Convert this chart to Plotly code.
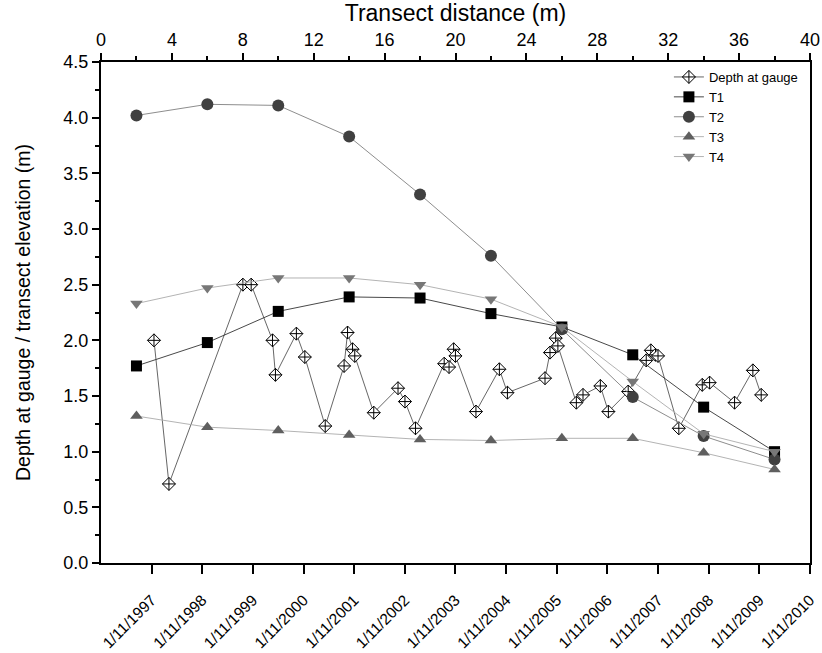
import plotly.graph_objects as go

# ---- data ----
gauge_dates = ["1997-11-18", "1998-03-06", "1999-08-21", "1999-10-20", "2000-03-22", "2000-04-12",
               "2000-09-10", "2000-11-10", "2001-04-06", "2001-08-20", "2001-09-14", "2001-10-20",
               "2001-11-05", "2002-03-22", "2002-09-13", "2002-11-02", "2003-01-17", "2003-08-12",
               "2003-09-16", "2003-10-19", "2003-11-01", "2004-03-28", "2004-09-13", "2004-11-10",
               "2005-08-08", "2005-09-13", "2005-10-24", "2005-11-09", "2006-03-22", "2006-05-09",
               "2006-09-11", "2006-11-08", "2007-03-31", "2007-08-08", "2007-09-10", "2007-10-14",
               "2007-11-01", "2008-03-30", "2008-09-15", "2008-11-07", "2009-05-06", "2009-09-15",
               "2009-11-14"]
gauge_depth = [2.00, 0.71, 2.50, 2.50, 2.00, 1.69,
               2.06, 1.85, 1.23, 1.77, 2.07, 1.92,
               1.86, 1.35, 1.57, 1.45, 1.21, 1.79,
               1.76, 1.92, 1.86, 1.36, 1.74, 1.53,
               1.66, 1.89, 2.02, 1.95, 1.44, 1.51,
               1.59, 1.36, 1.54, 1.82, 1.91, 1.87,
               1.86, 1.21, 1.60, 1.62, 1.44, 1.73,
               1.51]

distance = [2, 6, 10, 14, 18, 22, 26, 30, 34, 38]
T1 = [1.77, 1.98, 2.26, 2.39, 2.38, 2.24, 2.12, 1.87, 1.40, 1.00]
T2 = [4.02, 4.12, 4.11, 3.83, 3.31, 2.76, 2.10, 1.49, 1.14, 0.93]
T3 = [1.32, 1.22, 1.19, 1.15, 1.11, 1.10, 1.12, 1.12, 0.99, 0.84]
T4 = [2.33, 2.47, 2.56, 2.56, 2.50, 2.37, 2.12, 1.63, 1.16, 1.00]

date_ticks = ["1997-11-01", "1998-11-01", "1999-11-01", "2000-11-01", "2001-11-01", "2002-11-01",
              "2003-11-01", "2004-11-01", "2005-11-01", "2006-11-01", "2007-11-01", "2008-11-01",
              "2009-11-01", "2010-11-01"]
date_labels = ["1/11/1997", "1/11/1998", "1/11/1999", "1/11/2000", "1/11/2001", "1/11/2002",
               "1/11/2003", "1/11/2004", "1/11/2005", "1/11/2006", "1/11/2007", "1/11/2008",
               "1/11/2009", "1/11/2010"]
date_range = ["1996-11-01", "2010-11-01"]

FONT = "Liberation Sans, Arial, sans-serif"

fig = go.Figure()

fig.add_trace(go.Scatter(
    x=gauge_dates, y=gauge_depth, name="Depth at gauge", mode="lines+markers",
    xaxis="x", yaxis="y",
    line=dict(color="#555555", width=0.9),
    marker=dict(symbol="diamond-cross", size=10, color="white",
                line=dict(color="black", width=1)),
))

transects = [
    ("T1", T1, "square", "#000000", "#333333", 11),
    ("T2", T2, "circle", "#404040", "#808080", 12),
    ("T3", T3, "triangle-up", "#5f5f5f", "#aaaaaa", 11),
    ("T4", T4, "triangle-down", "#777777", "#aaaaaa", 11),
]
for name, vals, sym, mcol, lcol, sz in transects:
    fig.add_trace(go.Scatter(
        x=distance, y=vals, name=name, mode="lines+markers",
        xaxis="x2", yaxis="y",
        line=dict(color=lcol, width=0.9),
        marker=dict(symbol=sym, size=sz, color=mcol, line=dict(width=0)),
    ))

fig.update_layout(
    width=822, height=653,
    margin=dict(l=101, r=12, t=62, b=90),
    paper_bgcolor="white", plot_bgcolor="white",
    font=dict(family=FONT, color="black", size=18),
    showlegend=True,
    legend=dict(x=0.99, y=1.0, xanchor="right", yanchor="top",
                bgcolor="rgba(0,0,0,0)", font=dict(size=13, family=FONT),
                tracegroupgap=0, itemwidth=30),
    xaxis=dict(
        type="date", range=date_range, tickmode="array",
        tickvals=date_ticks, ticktext=date_labels, tickangle=-45,
        showgrid=False, zeroline=False, showline=True, linecolor="black", linewidth=2,
        ticks="outside", ticklen=9, tickwidth=2, tickcolor="black",
        ticklabelstandoff=11, automargin=False,
        tickfont=dict(size=15.5, family=FONT),
    ),
    xaxis2=dict(
        overlaying="x", side="top", range=[0, 40], tickmode="linear", tick0=0, dtick=4,
        showgrid=False, zeroline=False, showline=True, linecolor="black", linewidth=2,
        ticks="outside", ticklen=7, tickwidth=1.5, tickcolor="black",
        minor=dict(ticks="outside", ticklen=4, tickwidth=1.5, dtick=2, tick0=0, tickcolor="black"),
        tickfont=dict(size=18, family=FONT), automargin=False,
        title=dict(text="Transect distance (m)", font=dict(size=23, family=FONT), standoff=2),
    ),
    yaxis=dict(
        range=[0, 4.5], tickmode="linear", tick0=0, dtick=0.5, tickformat=".1f",
        showgrid=False, zeroline=False, showline=True, linecolor="black", linewidth=2,
        mirror=True, automargin=False,
        ticks="outside", ticklen=7, tickwidth=1.5, tickcolor="black",
        minor=dict(ticks="outside", ticklen=4, tickwidth=1.5, dtick=0.25, tick0=0, tickcolor="black"),
        tickfont=dict(size=18, family=FONT),
        title=dict(text="Depth at gauge / transect elevation (m)", font=dict(size=19.5, family=FONT), standoff=28),
    ),
)

fig.write_html("out.html")
